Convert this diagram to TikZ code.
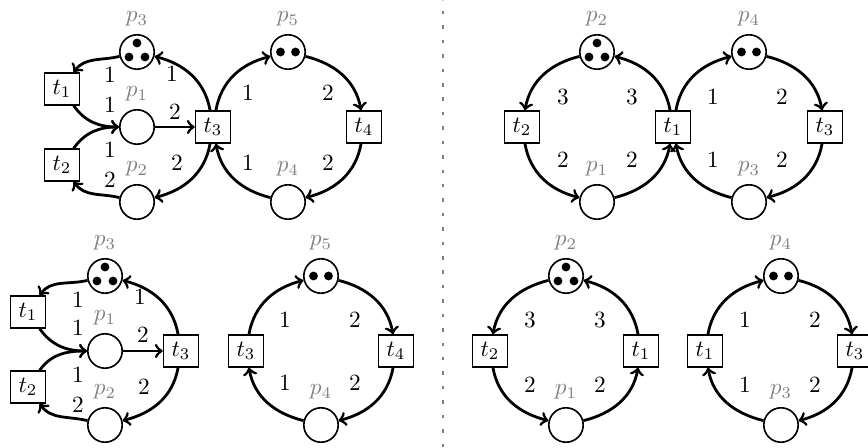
\documentclass[tikz,border=0pt]{standalone}
\usepackage{amsmath}
\usepackage{xcolor}
\usepackage{tikz}

% tokens inside a place
\newcommand{\tokthree}[1]{\fill ([shift={(0,9)}]#1.center) circle[radius=1.9pt]
  ([shift={(-8,-5)}]#1.center) circle[radius=1.9pt]
  ([shift={(8,-5)}]#1.center) circle[radius=1.9pt];}
\newcommand{\toktwo}[1]{\fill ([shift={(-7.5,0)}]#1.center) circle[radius=1.9pt]
  ([shift={(7.5,0)}]#1.center) circle[radius=1.9pt];}

\begin{document}
\begin{tikzpicture}[x=0.43pt, y=0.43pt,
  place/.style={draw=black, circle, line width=0.7pt, minimum size=14.8pt, inner sep=0pt},
  trans/.style={draw=black, rectangle, line width=0.7pt, minimum width=15pt,
    minimum height=13.6pt, inner sep=1pt},
  arc/.style={->, line width=1.2pt},
  wt/.style={inner sep=0pt},
  every label/.style={text=gray}, label distance=-0.3pt]
\useasboundingbox (0,0) rectangle (868,447);

% top left
\node[place, label=above:$p_3$] (ap3) at (137,395) {};
\node[place, label=above:$p_1$] (ap1) at (137,320) {};
\node[place, label=above:$p_2$] (ap2) at (137,245) {};
\node[trans] (at1) at (62,358) {$t_1$};
\node[trans] (at2) at (62,282) {$t_2$};
\node[trans] (at3) at (213,320) {$t_3$};
\node[place, label=above:$p_5$] (ap5) at (288,395) {};
\node[trans] (at4) at (364,320) {$t_4$};
\node[place, label=above:$p_4$] (ap4) at (288,245) {};
\tokthree{ap3}
\toktwo{ap5}
\draw[arc] (ap3) to[out=194,in=55] (at1);
\draw[arc] (at1) to[out=-55,in=180] (ap1);
\draw[arc] (at2) to[out=55,in=180] (ap1);
\draw[arc] (ap2) to[out=166,in=-55] (at2);
\draw[arc] (ap1) -- (at3);
\draw[arc] (at3) to[out=100,in=-14] (ap3);
\draw[arc] (at3) to[out=-100,in=14] (ap2);
\draw[arc] (at3) to[out=80,in=194] (ap5);
\draw[arc] (ap5) to[out=-14,in=100] (at4);
\draw[arc] (at4) to[out=-100,in=14] (ap4);
\draw[arc] (ap4) to[out=166,in=-80] (at3);
\foreach \x/\y/\w [count=\i] in {110/372/1, 172/373/1, 110/342/1, 175/335/2,
    110/297/1, 110/267/2, 177/284/2, 248/354/1, 328/354/2, 248/284/1, 328/284/2}
  \node[wt] (aw\i) at (\x,\y) {$\w$};

% top right
\node[place, label=above:$p_2$] (bp2) at (597,395) {};
\node[trans] (bt2) at (522,320) {$t_2$};
\node[trans] (bt1) at (673,320) {$t_1$};
\node[place, label=above:$p_1$] (bp1) at (597,245) {};
\node[place, label=above:$p_4$] (bp4) at (749,395) {};
\node[trans] (bt3) at (825,320) {$t_3$};
\node[place, label=above:$p_3$] (bp3) at (749,245) {};
\tokthree{bp2}
\toktwo{bp4}
\draw[arc] (bp2) to[out=194,in=80] (bt2);
\draw[arc] (bt2) to[out=-80,in=166] (bp1);
\draw[arc] (bp1) to[out=14,in=-100] (bt1);
\draw[arc] (bt1) to[out=100,in=-14] (bp2);
\draw[arc] (bt1) to[out=80,in=194] (bp4);
\draw[arc] (bp4) to[out=-14,in=100] (bt3);
\draw[arc] (bt3) to[out=-100,in=14] (bp3);
\draw[arc] (bp3) to[out=166,in=-80] (bt1);
\foreach \x/\y/\w [count=\i] in {563/350/3, 632/350/3, 563/287/2, 632/287/2,
    713/350/1, 782/350/2, 713/287/1, 782/287/2}
  \node[wt] (bw\i) at (\x,\y) {$\w$};

% bottom left
\node[place, label=above:$p_3$] (cp3) at (105,171) {};
\node[place, label=above:$p_1$] (cp1) at (105,96) {};
\node[place, label=above:$p_2$] (cp2) at (105,22) {};
\node[trans] (ct1) at (28,135) {$t_1$};
\node[trans] (ct2) at (28,60) {$t_2$};
\node[trans] (ct3a) at (181,96) {$t_3$};
\node[place, label=above:$p_5$] (cp5) at (321,171) {};
\node[trans] (ct3b) at (246,96) {$t_3$};
\node[trans] (ct4) at (396,96) {$t_4$};
\node[place, label=above:$p_4$] (cp4) at (321,22) {};
\tokthree{cp3}
\toktwo{cp5}
\draw[arc] (cp3) to[out=194,in=55] (ct1);
\draw[arc] (ct1) to[out=-55,in=180] (cp1);
\draw[arc] (ct2) to[out=55,in=180] (cp1);
\draw[arc] (cp2) to[out=166,in=-55] (ct2);
\draw[arc] (cp1) -- (ct3a);
\draw[arc] (ct3a) to[out=100,in=-14] (cp3);
\draw[arc] (ct3a) to[out=-100,in=14] (cp2);
\draw[arc] (ct3b) to[out=80,in=194] (cp5);
\draw[arc] (cp5) to[out=-14,in=100] (ct4);
\draw[arc] (ct4) to[out=-100,in=14] (cp4);
\draw[arc] (cp4) to[out=166,in=-80] (ct3b);
\foreach \x/\y/\w [count=\i] in {78/147/1, 140/150/1, 78/119/1, 143/112/2,
    78/72/1, 78/42/2, 144/60/2, 285/127/1, 355/127/2, 285/64/1, 355/64/2}
  \node[wt] (cw\i) at (\x,\y) {$\w$};

% bottom right
\node[place, label=above:$p_2$] (dp2) at (566,171) {};
\node[trans] (dt2) at (490,96) {$t_2$};
\node[trans] (dt1a) at (641,96) {$t_1$};
\node[place, label=above:$p_1$] (dp1) at (566,22) {};
\node[place, label=above:$p_4$] (dp4) at (781,171) {};
\node[trans] (dt1b) at (705,96) {$t_1$};
\node[trans] (dt3) at (855,96) {$t_3$};
\node[place, label=above:$p_3$] (dp3) at (781,22) {};
\tokthree{dp2}
\toktwo{dp4}
\draw[arc] (dp2) to[out=194,in=80] (dt2);
\draw[arc] (dt2) to[out=-80,in=166] (dp1);
\draw[arc] (dp1) to[out=14,in=-100] (dt1a);
\draw[arc] (dt1a) to[out=100,in=-14] (dp2);
\draw[arc] (dt1b) to[out=80,in=194] (dp4);
\draw[arc] (dp4) to[out=-14,in=100] (dt3);
\draw[arc] (dt3) to[out=-100,in=14] (dp3);
\draw[arc] (dp3) to[out=166,in=-80] (dt1b);
\foreach \x/\y/\w [count=\i] in {530/127/3, 600/127/3, 530/62/2, 600/62/2,
    745/127/1, 815/127/2, 745/62/1, 815/62/2}
  \node[wt] (dw\i) at (\x,\y) {$\w$};

% separator
\draw[gray, line width=0.6pt, dash pattern=on 1.5pt off 4.7pt] (443,0) -- (443,447);
\end{tikzpicture}
\end{document}
